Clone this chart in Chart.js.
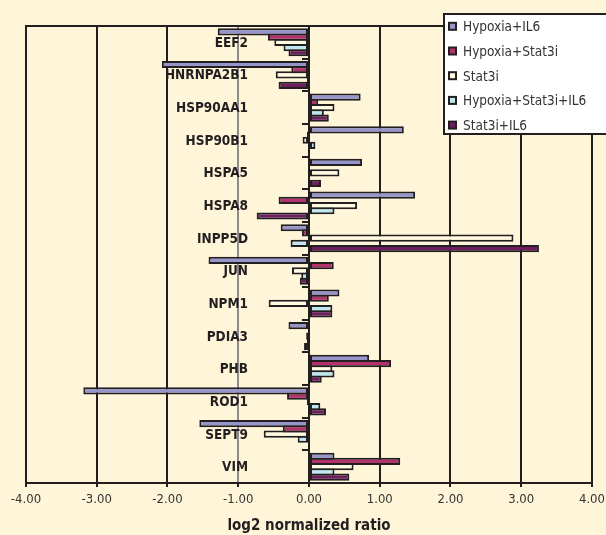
<!DOCTYPE html>
<html>
<head>
<meta charset="utf-8">
<script src="https://cdn.jsdelivr.net/npm/chart.js@4.4.1/dist/chart.umd.min.js"></script>
<style>
  html, body { margin: 0; padding: 0; background: #fff5d9; }
  #wrap { width: 606px; height: 535px; position: relative; }
</style>
</head>
<body>
<div id="wrap"><canvas id="c" width="606" height="535"></canvas></div>
<script>
const categories = ['EEF2','HNRNPA2B1','HSP90AA1','HSP90B1','HSPA5','HSPA8','INPP5D','JUN','NPM1','PDIA3','PHB','ROD1','SEPT9','VIM'];
const seriesNames = ['Hypoxia+IL6','Hypoxia+Stat3i','Stat3i','Hypoxia+Stat3i+IL6','Stat3i+IL6'];
const hypoxiaIL6       = [-1.29, -2.08, 0.73, 1.34, 0.75, 1.50, -0.40, -1.42, 0.43, -0.29, 0.85, -3.19, -1.55, 0.36];
const hypoxiaStat3i    = [-0.58, -0.25, 0.13, -0.03, 0.00, -0.43, -0.10, 0.35, 0.28, 0.00, 1.16, -0.31, -0.37, 1.29];
const stat3i           = [-0.49, -0.47, 0.36, -0.09, 0.43, 0.68, 2.89, -0.24, -0.57, -0.04, 0.33, -0.03, -0.64, 0.63];
const hypoxiaStat3iIL6 = [-0.36, -0.03, 0.21, 0.09, 0.00, 0.36, -0.26, -0.11, 0.33, -0.03, 0.36, 0.16, -0.16, 0.36];
const stat3iIL6        = [-0.29, -0.43, 0.28, 0.00, 0.17, -0.74, 3.25, -0.13, 0.33, -0.07, 0.18, 0.24, 0.00, 0.57];
const xTickMin = -4, xTickMax = 4, xTickStep = 1;

const colors = ['#9595cc', '#b3326b', '#fffbe3', '#bfe7ef', '#6c1e5e'];
const dark = '#231f20';
const cond = '"DejaVu Sans Condensed", "Liberation Sans Narrow", sans-serif';

const allSeries = [hypoxiaIL6, hypoxiaStat3i, stat3i, hypoxiaStat3iIL6, stat3iIL6];
const datasets = allSeries.map((d, i) => ({
  label: seriesNames[i],
  data: d,
  backgroundColor: colors[i],
  borderColor: dark,
  borderWidth: 2,
  borderSkipped: false,
  categoryPercentage: 0.8,
  barPercentage: 1.38
}));

const topBorder = {
  id: 'topBorder',
  beforeDatasetsDraw(chart) {
    const {ctx, chartArea} = chart;
    ctx.save();
    ctx.strokeStyle = dark;
    ctx.lineWidth = 2;
    ctx.beginPath();
    ctx.moveTo(chartArea.left - 1, chartArea.top);
    ctx.lineTo(chartArea.right + 1, chartArea.top);
    ctx.stroke();
    ctx.restore();
  }
};

const boxLegend = {
  id: 'boxLegend',
  afterDraw(chart) {
    const ctx = chart.ctx;
    ctx.save();
    ctx.fillStyle = '#ffffff';
    ctx.fillRect(444, 14, 170, 120);
    ctx.strokeStyle = dark;
    ctx.lineWidth = 2;
    ctx.strokeRect(444, 14, 170, 120);
    ctx.font = '13.5px ' + cond;
    ctx.textBaseline = 'alphabetic';
    ctx.textAlign = 'left';
    chart.data.datasets.forEach((ds, i) => {
      const cy = 26.3 + i * 24.7;
      ctx.fillStyle = ds.backgroundColor;
      ctx.fillRect(449, cy - 3.5, 7, 7);
      ctx.lineWidth = 2;
      ctx.strokeStyle = dark;
      ctx.strokeRect(449, cy - 3.5, 7, 7);
      ctx.fillStyle = '#333333';
      ctx.fillText(ds.label, 463, cy + 5);
    });
    ctx.restore();
  }
};

new Chart(document.getElementById('c'), {
  type: 'bar',
  data: { labels: categories, datasets },
  options: {
    indexAxis: 'y',
    responsive: false,
    animation: false,
    devicePixelRatio: 1,
    layout: { padding: { top: 26, left: 26, right: 14, bottom: 0 } },
    plugins: { legend: { display: false }, tooltip: { enabled: false } },
    scales: {
      x: {
        type: 'linear',
        min: xTickMin, max: xTickMax,
        position: 'bottom',
        ticks: {
          stepSize: xTickStep,
          callback: v => v.toFixed(2),
          font: { family: cond, size: 13, lineHeight: 24 / 13 },
          color: '#333333',
          padding: 1
        },
        grid: {
          color: ctx => (ctx.tick && ctx.tick.value === -1) ? '#8c8c8c' : dark,
          tickColor: dark,
          lineWidth: 2,
          tickLength: 4,
          drawTicks: true
        },
        border: { display: true, color: dark, width: 2 },
        title: {
          display: true,
          text: 'log2 normalized ratio',
          font: { family: cond, size: 15, weight: 'bold', lineHeight: 1 },
          color: dark,
          padding: { top: 5.5, bottom: 1.5 }
        }
      },
      y: {
        type: 'category',
        position: { x: 0 },
        offset: true,
        ticks: { display: false },
        grid: {
          offset: true,
          drawOnChartArea: false,
          drawTicks: true,
          tickLength: 6,
          color: dark,
          lineWidth: 2
        },
        border: { display: true, color: dark, width: 2 }
      },
      yLabels: {
        type: 'category',
        axis: 'y',
        labels: categories,
        position: { x: -0.862 },
        offset: true,
        grid: { display: false, drawTicks: false },
        border: { display: false },
        ticks: {
          font: { family: cond, size: 13.5, weight: 'bold' },
          color: dark,
          padding: 0,
          labelOffset: 1
        }
      }
    }
  },
  plugins: [topBorder, boxLegend]
});
</script>
</body>
</html>
